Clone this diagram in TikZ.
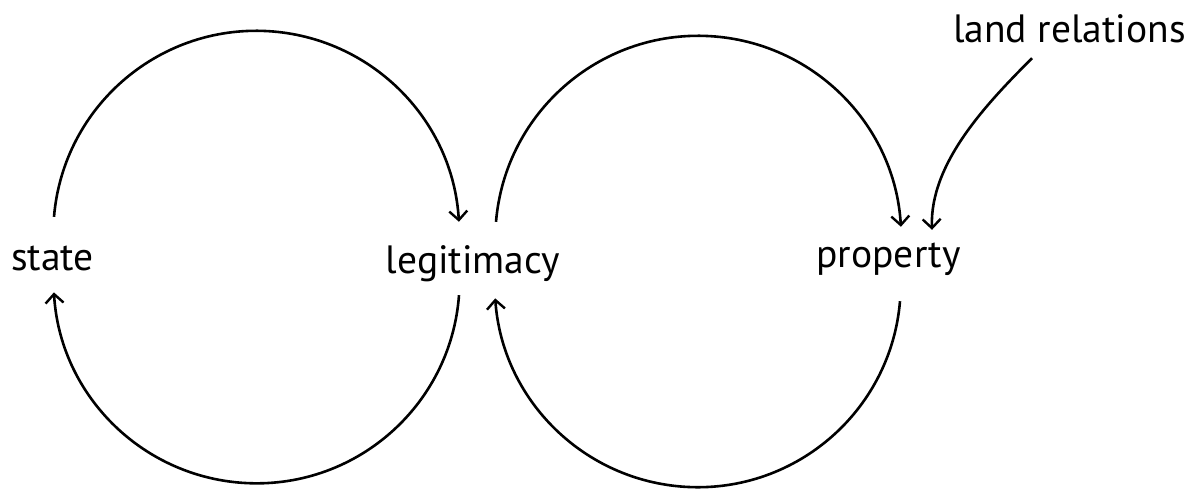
\documentclass[tikz,border=0pt]{standalone}
\usepackage{fontspec}
\setmainfont{PT Sans}
\usetikzlibrary{arrows.meta}
\begin{document}
\begin{tikzpicture}[x=1pt,y=1pt,
  lbl/.style={anchor=base, inner sep=0pt, text height=30pt, text depth=8pt,
    font=\fontsize{39.5}{44}\selectfont},
  conn/.style={line width=2.6pt, -{Straight Barb[length=9pt,width=18pt,line width=2.4pt]}}]
\useasboundingbox (0,0) rectangle (1192,-488);
\fill[white] (0,0) rectangle (1192,-488);
\node[lbl] (state) at (52.5,-270) {state};
\node[lbl] (legit) at (473,-273) {legitimacy};
\node[lbl] (prop) at (888.5,-267) {property};
\node[lbl] (land) at (1069.5,-42) {land relations};
% left loop
\draw[conn] ([xshift=1.5pt,yshift=23pt]state.north) arc[start angle=175.2, end angle=3.4, radius=203pt];
\draw[conn] ([xshift=-14pt,yshift=-14pt]legit.south) arc[start angle=-4.2, end angle=-176.6, radius=203pt];
% right loop
\draw[conn] ([xshift=23pt,yshift=21pt]legit.north) arc[start angle=175.2, end angle=3.4, radius=203pt];
\draw[conn] ([xshift=11.5pt,yshift=-26pt]prop.south) arc[start angle=-4.8, end angle=-176.0, radius=203pt];
% land relations
\draw[conn] ([xshift=-37.5pt,yshift=-8pt]land.south) to[out=225,in=92,distance=66pt] ([xshift=43.5pt,yshift=7pt]prop.north);
\end{tikzpicture}
\end{document}
